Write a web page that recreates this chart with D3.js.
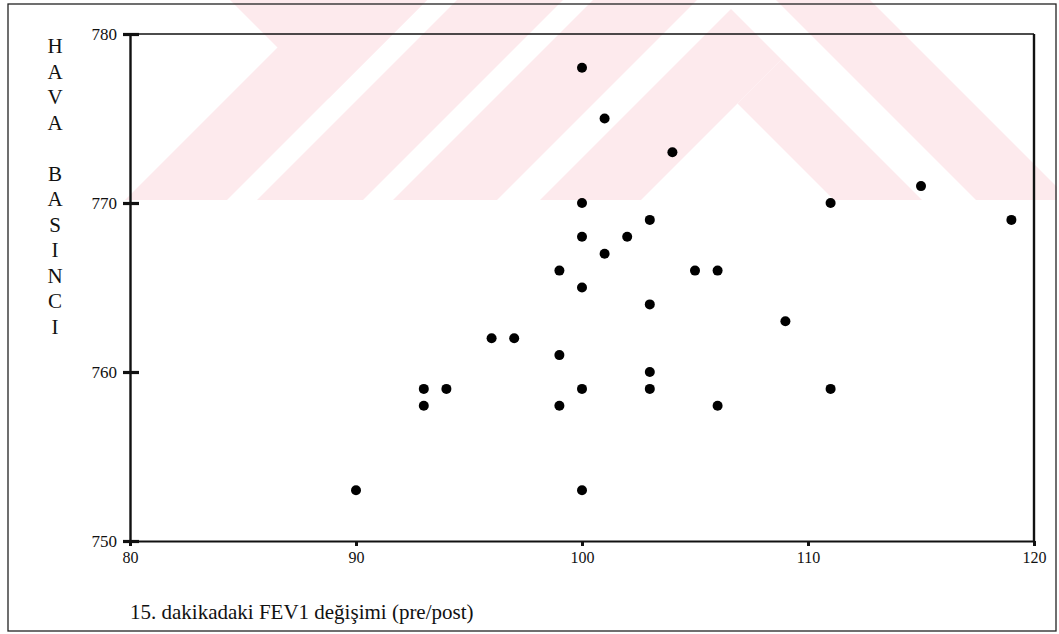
<!DOCTYPE html>
<html lang="tr">
<head>
<meta charset="UTF-8" />
<title>Hava basinci - FEV1</title>
<script src="https://d3js.org/d3.v7.min.js"></script>
<style>
  body { margin: 0; background: #fff; }
  svg { display: block; }
  text { font-family: "Liberation Serif", "DejaVu Serif", serif; fill: #111; }
</style>
</head>
<body>
<script>
// 15. dakikadaki FEV1 degisimi (x) ve hava basinci (y)
var fev1 = [100, 101, 104, 115, 100, 111, 103, 119, 100, 102, 101, 99, 105, 106, 100,
            103, 109, 96, 97, 99, 103, 93, 94, 100, 103, 111, 93, 99, 106, 90, 100];
var basinc = [778, 775, 773, 771, 770, 770, 769, 769, 768, 768, 767, 766, 766, 766, 765,
              764, 763, 762, 762, 761, 760, 759, 759, 759, 759, 759, 758, 758, 758, 753, 753];
var xTicks = [80, 90, 100, 110, 120];
var yTicks = [750, 760, 770, 780];
var yTitle = ["H", "A", "V", "A", "", "B", "A", "S", "I", "N", "C", "I"];
var xTitle = "15. dakikadaki FEV1 değişimi (pre/post)";

var W = 1059, H = 634;
var m = { left: 130, top: 34, right: 1034, bottom: 541 };

var svg = d3.select("body").append("svg").attr("width", W).attr("height", H);

// soluk pembe filigran (arka plan), yarim duzlemlerle kirpilmis cokgenler
function clip(poly, a, b, c) { // a*x + b*y < c tarafini tut
  var out = [];
  for (var i = 0; i < poly.length; i++) {
    var p = poly[i], q = poly[(i + 1) % poly.length];
    var fp = a * p[0] + b * p[1] - c, fq = a * q[0] + b * q[1] - c;
    if (fp <= 0) out.push(p);
    if ((fp < 0 && fq > 0) || (fp > 0 && fq < 0)) {
      var t = fp / (fp - fq);
      out.push([p[0] + t * (q[0] - p[0]), p[1] + t * (q[1] - p[1])]);
    }
  }
  return out;
}
function region(planes) {
  var poly = [[0, 0], [1057, 0], [1057, 200], [0, 200]];
  planes.forEach(function(h) { poly = clip(poly, h[0], h[1], h[2]); });
  return poly;
}
// s = x+y, d = x-y
var wm = [
  region([[-1, -1, -325], [1, 1, 427]]),
  region([[1, 1, 427], [-1, 1, -230]]),
  region([[-1, -1, -457], [1, 1, 563]]),
  region([[-1, -1, -593], [1, 1, 697], [1, -1, 870]]),
  region([[-1, -1, -697], [-1, 1, -776], [1, -1, 870]]),
  region([[-1, -1, -740], [1, 1, 841], [1, -1, 722]]),
  region([[-1, -1, -841], [-1, 1, -634], [1, -1, 722]])
];
svg.append("g").selectAll("path").data(wm).join("path")
  .attr("d", function(p) { return p.length ? "M" + p.join("L") + "Z" : null; })
  .attr("fill", "#fdeaed");

// dis cerceve
svg.append("rect").attr("x", 8).attr("y", 4).attr("width", 1048).attr("height", 627)
  .attr("fill", "none").attr("stroke", "#222").attr("stroke-width", 1.3);

var x = d3.scaleLinear().domain([80, 120]).range([m.left, m.right]);
var y = d3.scaleLinear().domain([750, 780]).range([m.bottom, m.top]);

// ust ve sag kenar
svg.append("line").attr("x1", x(80)).attr("x2", x(120)).attr("y1", y(780)).attr("y2", y(780))
  .attr("stroke", "#111").attr("stroke-width", 1.6);
svg.append("line").attr("x1", x(120)).attr("x2", x(120)).attr("y1", y(780)).attr("y2", y(750))
  .attr("stroke", "#111").attr("stroke-width", 2.4);

var gx = svg.append("g").attr("transform", "translate(0," + m.bottom + ")")
  .call(d3.axisBottom(x).tickValues(xTicks).tickSizeInner(5).tickSizeOuter(0));
gx.select(".domain").attr("stroke", "#111").attr("stroke-width", 1.8);
gx.selectAll(".tick line").attr("stroke", "#111").attr("stroke-width", 3);
gx.selectAll(".tick text").attr("y", 22).attr("dy", 0)
  .attr("font-size", 16).attr("font-family", "Liberation Serif").attr("fill", "#111");

var gy = svg.append("g").attr("transform", "translate(" + m.left + ",0)")
  .call(d3.axisLeft(y).tickValues(yTicks).tickSizeInner(7).tickSizeOuter(0).tickPadding(6));
gy.select(".domain").attr("stroke", "#111").attr("stroke-width", 2.4);
gy.selectAll(".tick line").attr("x2", -7).attr("x1", 9).attr("stroke", "#111").attr("stroke-width", 3.2);
gy.selectAll(".tick text").attr("font-size", 17).attr("font-family", "Liberation Serif").attr("fill", "#111");

// noktalar
svg.append("g").selectAll("circle").data(fev1).join("circle")
  .attr("cx", function(d) { return x(d); })
  .attr("cy", function(d, i) { return y(basinc[i]); })
  .attr("r", 5).attr("fill", "#000");

// eksen basliklari
svg.append("text").attr("text-anchor", "middle").attr("font-size", 21)
  .selectAll("tspan").data(yTitle).join("tspan")
  .attr("x", 55).attr("y", function(d, i) { return 53 + i * 25.5; })
  .text(function(d) { return d; });

svg.append("text").attr("x", 130).attr("y", 619).attr("font-size", 21).text(xTitle);
</script>
</body>
</html>
